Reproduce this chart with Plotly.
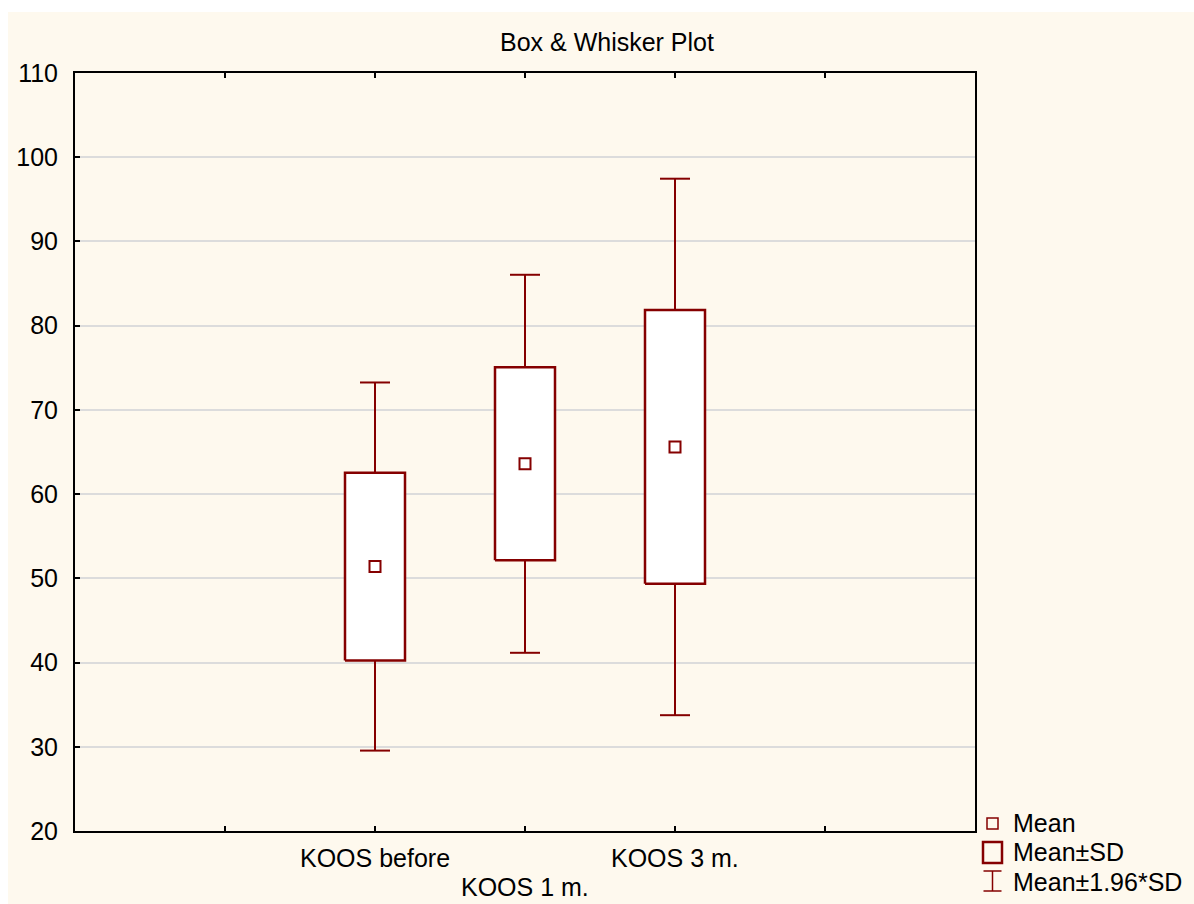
import plotly.graph_objects as go

# Summary statistics per measurement time
categories = ["KOOS before", "KOOS 1 m.", "KOOS 3 m."]
cat_pos = [2, 3, 4]
means = [51.4, 63.6, 65.6]
sds = [11.15, 11.45, 16.25]
z_whisker = 1.96

y_ticks = [20, 30, 40, 50, 60, 70, 80, 90, 100, 110]
x_ticks = [1, 2, 3, 4, 5]

DARK_RED = "#850000"
CREAM = "#FEF9EE"
FONT = "Liberation Sans, Arial, sans-serif"
FS = 25

W, H = 1194, 904
L, R, T, B = 75, 219, 73, 73
PW, PH = W - L - R, H - T - B

BOX_HALF = 0.2
CAP_HALF = 0.1

fig = go.Figure()

# whiskers: Mean±SD edge to Mean±1.96*SD with caps
wx, wy = [], []
for c, m, s in zip(cat_pos, means, sds):
    hi_box, lo_box = m + s, m - s
    hi_w, lo_w = m + z_whisker * s, m - z_whisker * s
    wx += [c, c, None, c - CAP_HALF, c + CAP_HALF, None,
           c, c, None, c - CAP_HALF, c + CAP_HALF, None]
    wy += [hi_box, hi_w, None, hi_w, hi_w, None,
           lo_box, lo_w, None, lo_w, lo_w, None]
fig.add_trace(go.Scatter(x=wx, y=wy, mode="lines",
                         line=dict(color=DARK_RED, width=2),
                         hoverinfo="skip", showlegend=False))

# boxes: Mean±SD
for c, m, s in zip(cat_pos, means, sds):
    fig.add_trace(go.Scatter(
        x=[c - BOX_HALF, c + BOX_HALF, c + BOX_HALF, c - BOX_HALF, c - BOX_HALF],
        y=[m - s, m - s, m + s, m + s, m - s],
        mode="lines", fill="toself", fillcolor="white",
        line=dict(color=DARK_RED, width=2.5),
        hoverinfo="skip", showlegend=False))

# means
fig.add_trace(go.Scatter(x=cat_pos, y=means, mode="markers",
                         marker=dict(symbol="square-open", size=11, color=DARK_RED,
                                     line=dict(width=2, color=DARK_RED)),
                         showlegend=False))


def px_x(px):
    return (px - L) / PW


def px_y(py):
    return (H - B - py) / PH


# cream frame behind the plot area
fig.add_shape(type="rect", xref="paper", yref="paper", layer="below",
              x0=px_x(8), x1=px_x(W + 2), y0=px_y(H + 2), y1=px_y(12),
              fillcolor=CREAM, line=dict(width=0))

# category labels on alternating rows
for i, (c, lab) in enumerate(zip(cat_pos, categories)):
    fig.add_annotation(x=c, y=0, xref="x", yref="paper", text=lab,
                       showarrow=False, xanchor="center", yanchor="middle",
                       yshift=-27 if i % 2 == 0 else -56,
                       font=dict(family=FONT, size=FS, color="black"))

# title
fig.add_annotation(x=px_x(607), y=px_y(42), xref="paper", yref="paper",
                   text="Box & Whisker Plot", showarrow=False,
                   xanchor="center", yanchor="middle",
                   font=dict(family=FONT, size=FS, color="black"))

# legend
leg_x = 992.5
fig.add_shape(type="rect", xref="paper", yref="paper",
              x0=px_x(leg_x - 5.5), x1=px_x(leg_x + 5.5),
              y0=px_y(829), y1=px_y(818),
              line=dict(color=DARK_RED, width=1.5))
fig.add_shape(type="rect", xref="paper", yref="paper",
              x0=px_x(leg_x - 9.5), x1=px_x(leg_x + 9.5),
              y0=px_y(863), y1=px_y(842),
              line=dict(color=DARK_RED, width=2.5))
for (xa, ya, xb, yb) in [(leg_x - 9, 871, leg_x + 9, 871),
                         (leg_x, 871, leg_x, 891),
                         (leg_x - 9, 891, leg_x + 9, 891)]:
    fig.add_shape(type="line", xref="paper", yref="paper",
                  x0=px_x(xa), y0=px_y(ya), x1=px_x(xb), y1=px_y(yb),
                  line=dict(color=DARK_RED, width=1.5))
for txt, ty in [("Mean", 823), ("Mean±SD", 852), ("Mean±1.96*SD", 882)]:
    fig.add_annotation(x=px_x(1011), y=px_y(ty), xref="paper", yref="paper",
                       text=txt, showarrow=False, xanchor="left", yanchor="middle",
                       font=dict(family=FONT, size=FS, color="black"))

fig.update_layout(
    width=W, height=H,
    margin=dict(l=L, r=R, t=T, b=B, pad=0),
    paper_bgcolor="white", plot_bgcolor="white",
    font=dict(family=FONT, size=FS, color="black"),
    showlegend=False,
    xaxis=dict(range=[0, 6], tickvals=x_ticks, ticktext=[""] * len(x_ticks),
               ticks="inside", ticklen=5, tickwidth=1.5, tickcolor="black",
               showgrid=False, zeroline=False,
               showline=True, linecolor="black", linewidth=2, mirror="ticks"),
    yaxis=dict(range=[20, 110], tickvals=y_ticks,
               ticks="inside", ticklen=5, tickwidth=1.5, tickcolor="black",
               ticklabelstandoff=10,
               tickfont=dict(family=FONT, size=FS, color="black"),
               showgrid=True, gridcolor="#DCDCDC", gridwidth=2, zeroline=False,
               showline=True, linecolor="black", linewidth=2, mirror=True),
)

fig.write_html("out.html")
